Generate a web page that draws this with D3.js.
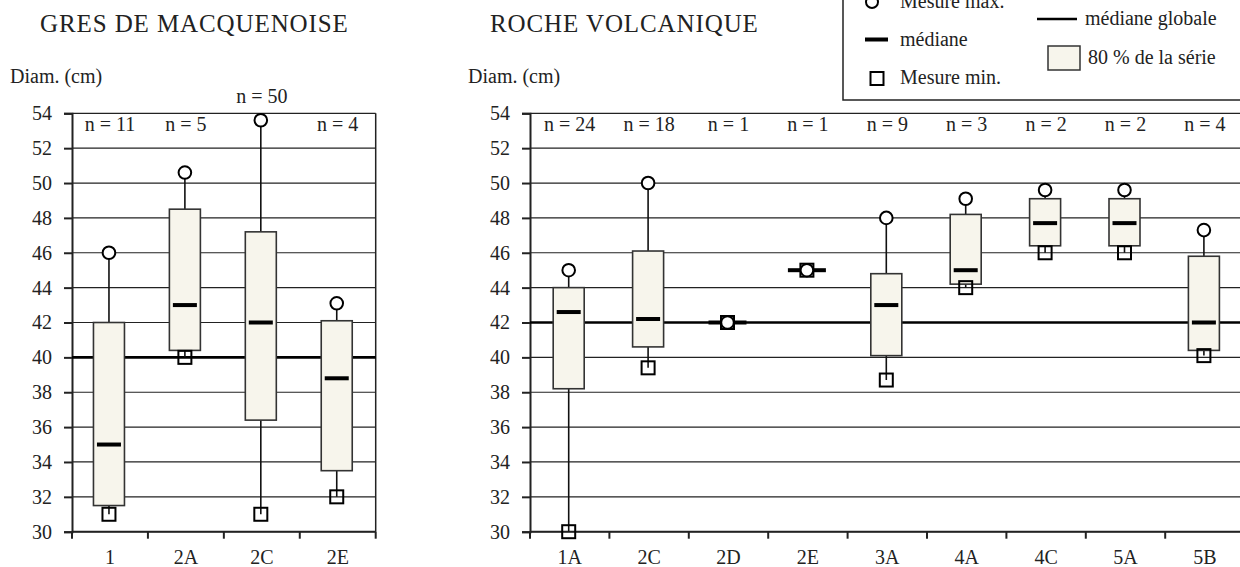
<html>
<head>
<script src="https://cdnjs.cloudflare.com/ajax/libs/d3/7.8.5/d3.min.js"></script>
<style>
  body { margin: 0; background: #fff; }
  text { font-family: "Liberation Serif", "Times New Roman", serif; fill: #222; }
</style>
</head>
<body>
<script>
// GRES DE MACQUENOISE
var leftCats = ["1", "2A", "2C", "2E"];
var leftN    = [11, 5, 50, 4];
var leftMax  = [46, 50.6, 53.6, 43.1];
var leftQ90  = [42, 48.5, 47.2, 42.1];
var leftMed  = [35, 43, 42, 38.8];
var leftQ10  = [31.5, 40.4, 36.4, 33.5];
var leftMin  = [31, 40, 31, 32];
var leftGlobal = 40;

// ROCHE VOLCANIQUE
var rightCats = ["1A", "2C", "2D", "2E", "3A", "4A", "4C", "5A", "5B"];
var rightN    = [24, 18, 1, 1, 9, 3, 2, 2, 4];
var rightMax  = [45, 50, 42, 45, 48, 49.1, 49.6, 49.6, 47.3];
var rightQ90  = [44, 46.1, 42, 45, 44.8, 48.2, 49.1, 49.1, 45.8];
var rightMed  = [42.6, 42.2, 42, 45, 43, 45, 47.7, 47.7, 42];
var rightQ10  = [38.2, 40.6, 42, 45, 40.1, 44.2, 46.4, 46.4, 40.4];
var rightMin  = [30, 39.4, 42, 45, 38.7, 44, 46, 46, 40.1];
var rightGlobal = 42;

var yTicks = [30, 32, 34, 36, 38, 40, 42, 44, 46, 48, 50, 52, 54];

var width = 1240, height = 567;
var boxFill = "#f7f5ec";
var fs = 20;

var svg = d3.select("body").append("svg")
    .attr("width", width).attr("height", height);

var y = d3.scaleLinear().domain([30, 54]).range([531.7, 113.3]);

function drawPanel(cfg) {
  var rows = cfg.cats.map(function(c, i) {
    return {cat: c, n: cfg.n[i], max: cfg.max[i], q90: cfg.q90[i],
            med: cfg.med[i], q10: cfg.q10[i], min: cfg.min[i]};
  });
  var x = d3.scaleBand().domain(cfg.cats).range([cfg.x0, cfg.x1]);
  var cx = function(d) { return x(d.cat) + x.bandwidth() / 2 - 1; };
  var g = svg.append("g");

  // title + unit
  g.append("text").attr("x", cfg.titleX).attr("y", 32)
    .attr("font-size", 25).style("letter-spacing", "0.9px").text(cfg.title);
  g.append("text").attr("x", cfg.x0 - 62).attr("y", 83)
    .attr("font-size", fs).text("Diam. (cm)");

  // grid
  g.selectAll(".grid").data(yTicks).enter().append("line")
    .attr("x1", cfg.x0).attr("x2", cfg.x1)
    .attr("y1", function(d) { return y(d); }).attr("y2", function(d) { return y(d); })
    .attr("stroke", "#222").attr("stroke-width", 1.2);
  if (cfg.rightBorder) {
    g.append("line").attr("x1", cfg.x1).attr("x2", cfg.x1)
      .attr("y1", y(54)).attr("y2", y(30)).attr("stroke", "#222").attr("stroke-width", 1.5);
  }

  // y axis
  var ya = g.append("g").attr("transform", "translate(" + cfg.x0 + ",0)")
    .call(d3.axisLeft(y).tickValues(yTicks).tickSize(8).tickPadding(12));
  ya.select(".domain").attr("stroke", "#222").attr("stroke-width", 2);
  ya.selectAll(".tick line").attr("stroke", "#222").attr("stroke-width", 2);
  ya.selectAll(".tick text").attr("font-size", fs)
    .style("font-family", "Liberation Serif").attr("fill", "#222");

  // x axis: tick marks at band edges, labels at centres
  g.append("line").attr("x1", cfg.x0).attr("x2", cfg.x1)
    .attr("y1", y(30)).attr("y2", y(30)).attr("stroke", "#222").attr("stroke-width", 2);
  var edges = cfg.cats.map(function(c) { return x(c); }).concat([cfg.x1]);
  g.selectAll(".xt").data(edges).enter().append("line")
    .attr("x1", function(d) { return d; }).attr("x2", function(d) { return d; })
    .attr("y1", y(30)).attr("y2", y(30) + 7)
    .attr("stroke", "#222").attr("stroke-width", 2);
  g.selectAll(".xl").data(rows).enter().append("text")
    .attr("x", function(d) { return cx(d) + 1; }).attr("y", 564)
    .attr("text-anchor", "middle").attr("font-size", fs)
    .text(function(d) { return d.cat; });

  // global median
  g.append("line").attr("x1", cfg.x0).attr("x2", cfg.x1)
    .attr("y1", y(cfg.global)).attr("y2", y(cfg.global))
    .attr("stroke", "#000").attr("stroke-width", 2.6);

  // whiskers
  g.selectAll(".wh").data(rows).enter().append("line")
    .attr("x1", cx).attr("x2", cx)
    .attr("y1", function(d) { return y(d.max); }).attr("y2", function(d) { return y(d.q90); })
    .attr("stroke", "#111").attr("stroke-width", 1.6);
  g.selectAll(".wl").data(rows).enter().append("line")
    .attr("x1", cx).attr("x2", cx)
    .attr("y1", function(d) { return y(d.q10); }).attr("y2", function(d) { return y(d.min); })
    .attr("stroke", "#111").attr("stroke-width", 1.6);

  // boxes
  g.selectAll(".box").data(rows).enter().append("rect")
    .attr("x", function(d) { return cx(d) - 15.5; })
    .attr("y", function(d) { return y(d.q90); })
    .attr("width", 31)
    .attr("height", function(d) { return y(d.q10) - y(d.q90); })
    .attr("fill", boxFill).attr("stroke", "#333").attr("stroke-width", 1.6);

  // medians
  g.selectAll(".med").data(rows).enter().append("rect")
    .attr("x", function(d) { return cx(d) - (d.n == 1 ? 19 : 12); })
    .attr("y", function(d) { return y(d.med) - 2; })
    .attr("width", function(d) { return d.n == 1 ? 38 : 24; }).attr("height", 4)
    .attr("fill", "#000");

  // min squares
  g.selectAll(".mn").data(rows).enter().append("rect")
    .attr("x", function(d) { return cx(d) - 6.5; })
    .attr("y", function(d) { return y(d.min) - 6.5; })
    .attr("width", 13).attr("height", 13)
    .attr("fill", "none").attr("stroke", "#000").attr("stroke-width", 2);

  // max circles
  g.selectAll(".mx").data(rows).enter().append("circle")
    .attr("cx", cx).attr("cy", function(d) { return y(d.max); }).attr("r", 6.3)
    .attr("fill", "#fff").attr("stroke", "#000").attr("stroke-width", 2);

  // counts (moved above the frame when the max circle would hit them)
  g.selectAll(".nl").data(rows).enter().append("text")
    .attr("x", function(d) { return cx(d) + 1; })
    .attr("y", function(d) { return d.max > 53 ? 103 : 131; })
    .attr("text-anchor", "middle").attr("font-size", fs)
    .text(function(d) { return "n = " + d.n; });
}

drawPanel({title: "GRES DE MACQUENOISE", titleX: 40, cats: leftCats, n: leftN,
  max: leftMax, q90: leftQ90, med: leftMed, q10: leftQ10, min: leftMin,
  global: leftGlobal, x0: 72, x1: 375.7, rightBorder: true});

drawPanel({title: "ROCHE VOLCANIQUE", titleX: 490, cats: rightCats, n: rightN,
  max: rightMax, q90: rightQ90, med: rightMed, q10: rightQ10, min: rightMin,
  global: rightGlobal, x0: 530, x1: 1244.6, rightBorder: false});

// legend (its top runs off the page, as in the original)
var lg = svg.append("g");
lg.append("rect").attr("x", 843).attr("y", -20).attr("width", 420).attr("height", 120)
  .attr("fill", "#fff").attr("stroke", "#222").attr("stroke-width", 1.5);
lg.append("circle").attr("cx", 872).attr("cy", 2).attr("r", 6)
  .attr("fill", "#fff").attr("stroke", "#000").attr("stroke-width", 2);
lg.append("text").attr("x", 900).attr("y", 8).attr("font-size", fs).text("Mesure max.");
lg.append("rect").attr("x", 865).attr("y", 37.5).attr("width", 23).attr("height", 4).attr("fill", "#000");
lg.append("text").attr("x", 900).attr("y", 46).attr("font-size", fs).text("médiane");
lg.append("rect").attr("x", 870.5).attr("y", 72).attr("width", 13).attr("height", 13)
  .attr("fill", "none").attr("stroke", "#000").attr("stroke-width", 2);
lg.append("text").attr("x", 900).attr("y", 84).attr("font-size", fs).text("Mesure min.");
lg.append("line").attr("x1", 1037).attr("x2", 1077).attr("y1", 19).attr("y2", 19)
  .attr("stroke", "#000").attr("stroke-width", 2.6);
lg.append("text").attr("x", 1085).attr("y", 25).attr("font-size", fs).text("médiane globale");
lg.append("rect").attr("x", 1048).attr("y", 46).attr("width", 32).attr("height", 24)
  .attr("fill", boxFill).attr("stroke", "#333").attr("stroke-width", 1.5);
lg.append("text").attr("x", 1088).attr("y", 64).attr("font-size", fs).text("80 % de la série");
</script>
</body>
</html>
